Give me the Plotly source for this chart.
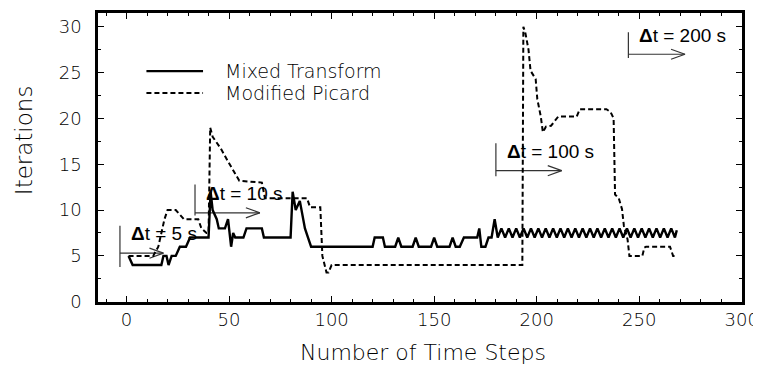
import plotly.graph_objects as go

# ---------------- data ----------------
mt_x = [1, 3, 17, 18, 19.5, 20.5, 22, 24, 26, 29, 31, 40, 41, 42, 44, 45, 48, 49.5, 51, 52, 53, 57, 58.5, 66,
        67, 80, 81, 82.5, 84.5, 86, 87, 88.5, 90, 120, 121, 125, 126, 131, 132.5, 134, 139.5, 141, 142.5,
        148.5, 150, 151.5, 157.5, 159, 160.5, 162.5, 164.5, 171, 172, 173, 175, 176.5, 178, 179.5,
        181, 182.8, 184.6, 186.4, 188.2, 190, 191.8, 193.6, 195.4, 197.2, 199, 200.8, 202.6, 204.4,
        206.2, 208, 209.8, 211.6, 213.4, 215.2, 217, 218.8, 220.6, 222.4, 224.2, 226, 227.8, 229.6,
        231.4, 233.2, 235, 236.8, 238.6, 240.4, 242.2, 244, 245.8, 247.6, 249.4, 251.2, 253, 254.8,
        256.6, 258.4, 260.2, 262, 263.8, 265.6, 267.4, 268.3]
mt_y = [5, 4, 4, 5, 5, 4, 5, 5, 6, 6, 7, 7, 12, 10, 9, 8, 8, 9, 6, 7.5, 7, 7, 8, 8,
        7, 7, 12, 10, 11, 9, 8, 7, 6, 6, 7, 7, 6, 6, 7, 6, 6, 7, 6,
        6, 7, 6, 6, 7, 6, 6, 7, 7, 8, 6, 6, 7, 7, 9,
        7, 8, 7, 8, 7, 8, 7, 8, 7, 8, 7, 8, 7, 8,
        7, 8, 7, 8, 7, 8, 7, 8, 7, 8, 7, 8, 7, 8,
        7, 8, 7, 8, 7, 8, 7, 8, 7, 8, 7, 8, 7, 8,
        7, 8, 7, 8, 7, 8, 7, 7.8]

mp_x = [1, 13, 15.5, 17, 18.5, 20, 24, 26, 28, 33, 35, 36.5, 39, 40, 40.8, 42, 46, 49.5, 52, 55, 66,
        67.5, 88, 89.5, 94.5, 95.5, 97.5, 98.5, 100, 193, 193.5, 194.5, 196, 197, 199.5, 200.3,
        202, 203, 204.5, 207, 210.5, 219.5, 221, 234, 236, 237.5, 238.2, 240, 241.6, 242.5,
        244.3, 245.2, 251.5, 252.5, 253.3, 263, 265, 266.5, 268]
mp_y = [5, 5, 6, 7.5, 9, 10, 10, 9.5, 9, 9, 9, 8, 7.5, 7.5, 19, 18, 16.7, 15.3, 14.4, 13.2, 13,
        11.3, 11.3, 10.3, 10.3, 5, 3.2, 3.2, 4, 4, 30, 29.3, 27.5, 25.2, 24.3, 22.1,
        20.2, 18.5, 19.1, 19.2, 20.2, 20.2, 21, 21, 20.7, 20, 11.7, 11.3, 10.1, 8.3,
        6.8, 5, 5, 5.9, 6, 6, 6, 5, 5]

series_names = ["Mixed Transform", "Modified Picard"]

# time-step annotations (Δt markers)
dt_labels = ["5 s", "10 s", "100 s", "200 s"]
dt_bar_x = [-3.2, 33.4, 180.1, 244.7]
dt_bar_y0 = [3.8, 9.4, 13.7, 26.6]
dt_bar_y1 = [8.3, 12.8, 17.3, 29.4]
dt_arrow_y = [5.3, 9.7, 14.3, 27.0]
dt_arrow_end = [18, 65, 212.2, 272.3]
dt_text_y = [7.4, 11.8, 16.4, 29.0]

x_ticks = [0, 50, 100, 150, 200, 250, 300]
y_ticks = [0, 5, 10, 15, 20, 25, 30]

# ---------------- styling ----------------
FONT = "DejaVu Sans ExtraLight, DejaVu Sans"
X_RANGE = [-13.9, 300.1]
Y_RANGE = [-0.03, 31.5]
HEAD_LEN = 6.8    # x units
HEAD_HALF = 0.55  # y units
ANNO_COLOR = "#333333"
LINE_STYLES = [dict(color="black", width=2.4), dict(color="black", width=2, dash="5px,3px")]

fig = go.Figure()

# Δt markers
for i in range(len(dt_labels)):
    bx = dt_bar_x[i]
    fig.add_trace(go.Scatter(x=[bx, bx], y=[dt_bar_y0[i], dt_bar_y1[i]], mode="lines",
                             line=dict(color=ANNO_COLOR, width=1.2), showlegend=False, hoverinfo="skip"))
    fig.add_trace(go.Scatter(x=[bx, dt_arrow_end[i]], y=[dt_arrow_y[i], dt_arrow_y[i]], mode="lines",
                             line=dict(color=ANNO_COLOR, width=1.2), showlegend=False, hoverinfo="skip"))
    tip = dt_arrow_end[i]
    fig.add_trace(go.Scatter(x=[tip - HEAD_LEN, tip, tip - HEAD_LEN],
                             y=[dt_arrow_y[i] + HEAD_HALF, dt_arrow_y[i], dt_arrow_y[i] - HEAD_HALF],
                             mode="lines", line=dict(color=ANNO_COLOR, width=1.2),
                             showlegend=False, hoverinfo="skip"))
    fig.add_annotation(x=bx, y=dt_text_y[i], xref="x", yref="y", xanchor="left", yanchor="middle",
                       xshift=9, showarrow=False,
                       text="<b>Δ</b>t = " + dt_labels[i],
                       font=dict(family="Liberation Sans", size=19, color="black"))

fig.add_trace(go.Scatter(x=mt_x, y=mt_y, mode="lines", name=series_names[0],
                         line=LINE_STYLES[0], showlegend=False))
fig.add_trace(go.Scatter(x=mp_x, y=mp_y, mode="lines", name=series_names[1],
                         line=LINE_STYLES[1], showlegend=False))

# hand-drawn legend (paper coordinates)
LEG_X0, LEG_X1, LEG_TX = 0.0752, 0.1631, 0.1935
LEG_Y = [0.799, 0.7235]
for i, name in enumerate(series_names):
    fig.add_shape(type="line", xref="paper", yref="paper", x0=LEG_X0, x1=LEG_X1,
                  y0=LEG_Y[i], y1=LEG_Y[i], line=LINE_STYLES[i])
    fig.add_annotation(text=name, xref="paper", yref="paper", x=LEG_TX, y=LEG_Y[i],
                       xanchor="left", yanchor="middle", showarrow=False,
                       font=dict(family=FONT, size=19, color="black", weight=200))

axis_common = dict(showgrid=False, zeroline=False, showline=True, linecolor="black", linewidth=2.5,
                   mirror="allticks", ticks="inside", ticklen=6, tickwidth=1, tickcolor="black",
                   tickfont=dict(family=FONT, size=18, color="black", weight=200))

fig.update_xaxes(range=X_RANGE, tickvals=x_ticks, ticklabelstandoff=0,
                 minor=dict(dtick=10, tick0=0, ticks="inside", ticklen=3, tickcolor="black"),
                 **axis_common)
fig.update_yaxes(range=Y_RANGE, tickvals=y_ticks, ticklabelstandoff=10,
                 minor=dict(dtick=2.5, tick0=0, ticks="inside", ticklen=3, tickcolor="black"),
                 **axis_common)

fig.add_annotation(text="Number of Time Steps", xref="paper", yref="paper", x=0.505, y=0,
                   yshift=-50.5, xanchor="center", yanchor="middle", showarrow=False,
                   font=dict(family=FONT, size=22, color="black", weight=200))
fig.add_annotation(text="Iterations", xref="paper", yref="paper", x=0, y=0.559,
                   xshift=-73.3, xanchor="center", yanchor="middle", textangle=-90, showarrow=False,
                   font=dict(family=FONT, size=23, color="black", weight=200))

# page body has an 8px margin, so the figure is sized to fill the rest of the window
fig.update_layout(
    width=753, height=357,
    margin=dict(l=90, r=19, t=2, b=63),
    paper_bgcolor="white", plot_bgcolor="white",
    showlegend=False,
)

fig.write_html("out.html")
